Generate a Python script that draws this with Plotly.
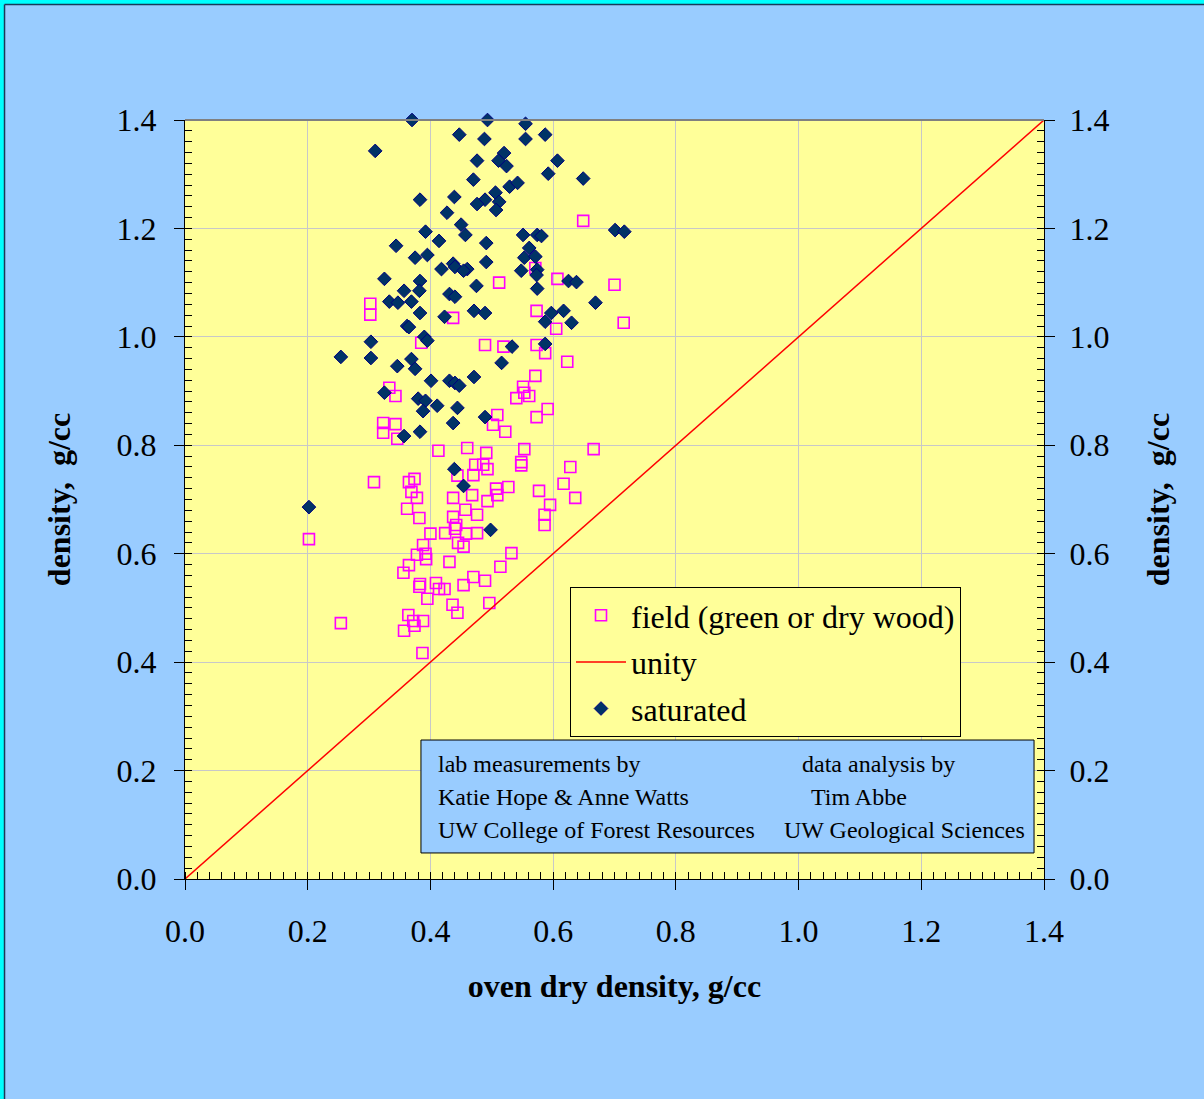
import plotly.graph_objects as go

# ---- data ----
field_x = [0.649, 0.571, 0.607, 0.512, 0.700, 0.302, 0.302, 0.437, 0.573, 0.715,
           0.605, 0.385, 0.489, 0.519, 0.573, 0.587, 0.623, 0.333, 0.343, 0.571,
           0.551, 0.553, 0.561, 0.540, 0.591, 0.573, 0.509, 0.502, 0.522, 0.323,
           0.343, 0.323, 0.346, 0.413, 0.460, 0.491, 0.553, 0.666, 0.548, 0.548,
           0.473, 0.486, 0.493, 0.470, 0.444, 0.628, 0.617, 0.636, 0.595, 0.586,
           0.586, 0.577, 0.507, 0.527, 0.509, 0.493, 0.468, 0.308, 0.365, 0.374,
           0.369, 0.378, 0.362, 0.382, 0.437, 0.457, 0.476, 0.437, 0.442, 0.440,
           0.458, 0.476, 0.445, 0.454, 0.424, 0.400, 0.388, 0.378, 0.392, 0.393,
           0.365, 0.356, 0.431, 0.532, 0.514, 0.382, 0.383, 0.409, 0.414, 0.423,
           0.395, 0.470, 0.489, 0.454, 0.496, 0.436, 0.444, 0.364, 0.372, 0.388,
           0.374, 0.357, 0.254, 0.387, 0.202]
field_y = [1.214, 1.127, 1.107, 1.100, 1.096, 1.061, 1.041, 1.035, 1.048, 1.026,
           1.015, 0.989, 0.985, 0.982, 0.985, 0.970, 0.954, 0.906, 0.891, 0.928,
           0.908, 0.897, 0.891, 0.887, 0.867, 0.852, 0.856, 0.838, 0.825, 0.841,
           0.839, 0.823, 0.812, 0.790, 0.795, 0.786, 0.793, 0.793, 0.769, 0.763,
           0.764, 0.764, 0.756, 0.745, 0.744, 0.760, 0.729, 0.703, 0.690, 0.672,
           0.653, 0.716, 0.720, 0.723, 0.708, 0.697, 0.708, 0.732, 0.732, 0.738,
           0.714, 0.703, 0.683, 0.666, 0.703, 0.681, 0.672, 0.668, 0.653, 0.646,
           0.637, 0.638, 0.620, 0.613, 0.638, 0.637, 0.616, 0.598, 0.600, 0.590,
           0.579, 0.565, 0.585, 0.601, 0.576, 0.539, 0.544, 0.546, 0.535, 0.535,
           0.517, 0.557, 0.550, 0.542, 0.509, 0.506, 0.491, 0.487, 0.476, 0.476,
           0.467, 0.458, 0.472, 0.417, 0.627]

sat_x = [0.370, 0.493, 0.555, 0.447, 0.587, 0.488, 0.555, 0.310, 0.520, 0.511,
         0.524, 0.476, 0.607, 0.470, 0.592, 0.649, 0.529, 0.542, 0.506, 0.512,
         0.507, 0.489, 0.383, 0.439, 0.476, 0.427, 0.450, 0.457, 0.491, 0.392,
         0.414, 0.344, 0.375, 0.395, 0.418, 0.437, 0.440, 0.460, 0.454, 0.491,
         0.325, 0.383, 0.701, 0.716, 0.551, 0.574, 0.581, 0.561, 0.553, 0.571,
         0.548, 0.574, 0.573, 0.625, 0.638, 0.357, 0.382, 0.333, 0.347, 0.369,
         0.383, 0.423, 0.362, 0.365, 0.390, 0.395, 0.303, 0.254, 0.303, 0.346,
         0.369, 0.375, 0.401, 0.431, 0.440, 0.447, 0.325, 0.380, 0.392, 0.388,
         0.411, 0.444, 0.437, 0.383, 0.357, 0.431, 0.440, 0.475, 0.471, 0.489,
         0.574, 0.669, 0.597, 0.617, 0.587, 0.630, 0.587, 0.533, 0.516, 0.471,
         0.489, 0.439, 0.454, 0.498, 0.202]
sat_y = [1.400, 1.400, 1.393, 1.373, 1.373, 1.365, 1.365, 1.343, 1.339, 1.325,
         1.315, 1.325, 1.325, 1.290, 1.301, 1.292, 1.277, 1.284, 1.266, 1.249,
         1.234, 1.253, 1.253, 1.258, 1.245, 1.229, 1.207, 1.188, 1.173, 1.194,
         1.177, 1.168, 1.146, 1.151, 1.125, 1.135, 1.129, 1.125, 1.122, 1.138,
         1.107, 1.103, 1.197, 1.194, 1.188, 1.188, 1.186, 1.164, 1.146, 1.148,
         1.122, 1.124, 1.114, 1.103, 1.101, 1.085, 1.085, 1.065, 1.063, 1.065,
         1.044, 1.037, 1.020, 1.018, 1.000, 0.993, 0.991, 0.963, 0.961, 0.946,
         0.959, 0.941, 0.919, 0.919, 0.915, 0.910, 0.897, 0.886, 0.882, 0.863,
         0.873, 0.869, 0.841, 0.825, 0.817, 1.079, 1.074, 1.094, 1.048, 1.044,
         1.089, 1.063, 1.044, 1.048, 1.028, 1.026, 0.987, 0.982, 0.952, 0.926,
         0.852, 0.756, 0.725, 0.644, 0.686]

unity_x = [0.0, 1.4]
unity_y = [0.0, 1.4]

tick_vals = [0.0, 0.2, 0.4, 0.6, 0.8, 1.0, 1.2, 1.4]
tick_text = ["0.0", "0.2", "0.4", "0.6", "0.8", "1.0", "1.2", "1.4"]

SERIF = "Liberation Serif, Times New Roman, serif"

fig = go.Figure()
fig.add_trace(go.Scatter(
    x=field_x, y=field_y, mode="markers", name="field (green or dry wood)",
    legendgroup="a",
    marker=dict(symbol="square-open", size=11, color="#FF00FF",
                line=dict(color="#FF00FF", width=1.6)),
    cliponaxis=False))
fig.add_trace(go.Scatter(
    x=unity_x, y=unity_y, mode="lines", name="unity", legendgroup="b",
    line=dict(color="#FF0000", width=1.5)))
fig.add_trace(go.Scatter(
    x=sat_x, y=sat_y, mode="markers", name="saturated", legendgroup="c",
    marker=dict(symbol="diamond", size=10.5, color="#003366",
                line=dict(color="#000080", width=1)),
    cliponaxis=False))
fig.add_trace(go.Scatter(
    x=unity_x, y=unity_y, mode="lines", yaxis="y2", showlegend=False,
    hoverinfo="skip", line=dict(color="rgba(0,0,0,0)", width=0)))

axis_common = dict(
    range=[0, 1.4], tickvals=tick_vals, ticktext=tick_text,
    ticks="outside", ticklen=10, tickwidth=1, tickcolor="black",
    showline=True, linecolor="black", linewidth=1,
    zeroline=False,
    tickfont=dict(family=SERIF, size=32, color="black"),
    minor=dict(ticks="inside", dtick=0.02, ticklen=7, tickcolor="black",
               tickwidth=1, showgrid=False),
)

fig.update_layout(
    width=1204, height=1099, autosize=False,
    margin=dict(l=185, r=160, t=120, b=220),
    paper_bgcolor="#99CCFF", plot_bgcolor="#FFFF99",
    font=dict(family=SERIF, color="black"),
    showlegend=True,
    xaxis=dict(**axis_common, showgrid=True, gridcolor="#C8C8C8", gridwidth=1,
               ticklabelstandoff=14,
               title=dict(text="<b>oven dry density, g/cc</b>",
                          font=dict(family=SERIF, size=32), standoff=26)),
    yaxis=dict(**axis_common, showgrid=True, gridcolor="#C8C8C8", gridwidth=1,
               ticklabelstandoff=11,
               title=dict(text="<b>density,&nbsp; g/cc</b>",
                          font=dict(family=SERIF, size=32), standoff=36)),
    yaxis2=dict(**axis_common, overlaying="y", side="right", showgrid=False,
                ticklabelstandoff=8,
                title=dict(text="<b>density,&nbsp; g/cc</b>",
                           font=dict(family=SERIF, size=32), standoff=38)),
    legend=dict(x=0.4482, y=0.3847, xanchor="left", yanchor="top",
                bgcolor="#FFFF99", bordercolor="black", borderwidth=1,
                font=dict(family=SERIF, size=32, color="black"),
                tracegroupgap=2, itemwidth=50),
)

shapes = [
    # top border of plot area
    dict(type="line", xref="paper", yref="paper", x0=0, x1=1, y0=1, y1=1,
         line=dict(color="#808080", width=2)),
    # credits box
    dict(type="rect", xref="paper", yref="paper", x0=0.2747, x1=0.9884,
         y0=0.0343, y1=0.1831, fillcolor="#99CCFF",
         line=dict(color="black", width=1), layer="above"),
    # window frame (top / left)
    dict(type="rect", xref="paper", yref="paper", x0=-0.2154, x1=1.1863,
         y0=1.1528, y1=1.1600, fillcolor="#00FFFF", line=dict(width=0)),
    dict(type="rect", xref="paper", yref="paper", x0=-0.2160, x1=-0.2107,
         y0=-0.2899, y1=1.1600, fillcolor="#00FFFF", line=dict(width=0)),
    dict(type="line", xref="paper", yref="paper", x0=-0.2101, x1=1.1863,
         y0=1.1522, y1=1.1522, line=dict(color="#1a3a5a", width=1.5)),
    dict(type="line", xref="paper", yref="paper", x0=-0.2101, x1=-0.2101,
         y0=-0.2899, y1=1.1522, line=dict(color="#1a3a5a", width=1.5)),
]
fig.update_layout(shapes=shapes)

credit_font = dict(family=SERIF, size=24, color="black")
credits = [
    ("lab measurements by", 0.2922, 0.1515),
    ("Katie Hope &amp; Anne Watts", 0.2922, 0.1080),
    ("UW College of Forest Resources", 0.2922, 0.0646),
    ("data analysis by", 0.7165, 0.1515),
    ("Tim Abbe", 0.7259, 0.1080),
    ("UW Geological Sciences", 0.6945, 0.0646),
]
for txt, xx, yy in credits:
    fig.add_annotation(text=txt, xref="paper", yref="paper", x=xx, y=yy,
                       xanchor="left", yanchor="middle", showarrow=False,
                       font=credit_font)

fig.write_html("out.html")
